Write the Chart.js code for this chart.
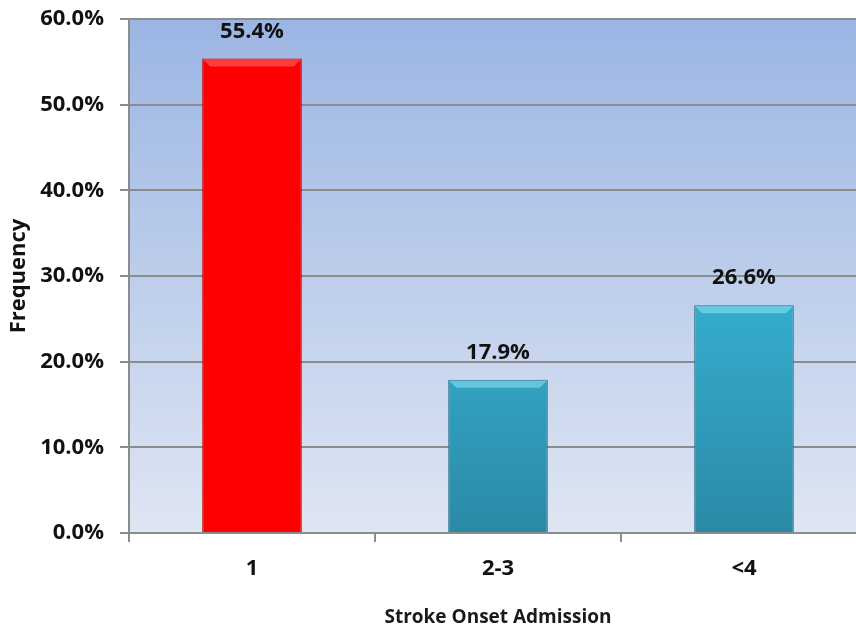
<!DOCTYPE html>
<html>
<head>
<meta charset="utf-8">
<script src="https://cdn.jsdelivr.net/npm/chart.js@4/dist/chart.umd.min.js"></script>
<style>
    html, body { margin: 0; padding: 0; background: #fff; overflow: hidden; }
    #wrap { width: 867px; height: 632px; }
</style>
</head>
<body>
<div id="wrap"><canvas id="onset-chart"></canvas></div>
<script>
// Datos del gráfico
const categories = ['1', '2-3', '<4'];
const frequency = [55.4, 17.9, 26.6];
const yTicks = [0, 10, 20, 30, 40, 50, 60];

const FONT = '"Open Sans", Lato, sans-serif';

// Fondo degradado del área de trazado
const plotBackground = {
    id: 'plotBackground',
    beforeDraw(chart) {
        const { ctx, chartArea: a } = chart;
        const g = ctx.createLinearGradient(0, a.top, 0, a.bottom);
        g.addColorStop(0, '#9bb5e3');
        g.addColorStop(1, '#dfe6f3');
        ctx.save();
        ctx.fillStyle = g;
        ctx.fillRect(a.left, a.top, a.right - a.left, a.bottom - a.top);
        ctx.restore();
    }
};

// Bisel simple en las barras y etiquetas de valor
const barExtras = {
    id: 'barExtras',
    afterDatasetsDraw(chart) {
        const ctx = chart.ctx;
        const meta = chart.getDatasetMeta(0);
        meta.data.forEach((bar, i) => {
            const left = bar.x - bar.width / 2;
            const right = bar.x + bar.width / 2;
            const top = bar.y;
            const b = 8;
            ctx.save();
            ctx.fillStyle = i === 0 ? 'rgba(255,120,120,0.5)' : 'rgba(150,235,250,0.5)';
            ctx.beginPath();
            ctx.moveTo(left + 1, top + 1);
            ctx.lineTo(right - 1, top + 1);
            ctx.lineTo(right - b, top + b);
            ctx.lineTo(left + b, top + b);
            ctx.closePath();
            ctx.fill();
            ctx.restore();

            ctx.save();
            ctx.font = 'bold 22px ' + FONT;
            ctx.fillStyle = '#111';
            ctx.textAlign = 'center';
            ctx.textBaseline = 'middle';
            ctx.fillText(frequency[i].toFixed(1) + '%', bar.x, bar.y - 27);
            ctx.restore();
        });
    }
};

const ctx = document.getElementById('onset-chart').getContext('2d');

new Chart(ctx, {
    type: 'bar',
    data: {
        labels: categories,
        datasets: [{
            data: frequency,
            backgroundColor: function (c) {
                const area = c.chart.chartArea;
                if (!area) return '#35a9c9';
                if (c.dataIndex === 0) return '#ff0000';
                const g = c.chart.ctx.createLinearGradient(0, area.top, 0, area.bottom);
                g.addColorStop(0, '#43c6e6');
                g.addColorStop(0.5, '#37b0d2');
                g.addColorStop(1, '#2a8aa6');
                return g;
            },
            borderColor: function (c) {
                return c.dataIndex === 0 ? '#cc0000' : '#2a6e84';
            },
            borderWidth: 1,
            categoryPercentage: 1,
            barPercentage: 0.405
        }]
    },
    options: {
        responsive: true,
        maintainAspectRatio: false,
        animation: false,
        layout: { padding: { top: 19, right: 0, left: 0, bottom: 0 } },
        plugins: {
            legend: { display: false },
            tooltip: { enabled: false }
        },
        scales: {
            x: {
                grid: {
                    drawOnChartArea: false,
                    drawTicks: true,
                    tickLength: 9,
                    color: '#8c8c8c',
                    lineWidth: 2
                },
                border: { color: '#8c8c8c', width: 2 },
                ticks: {
                    color: '#111',
                    padding: 14,
                    font: { family: FONT, size: 22, weight: 'bold' }
                },
                title: {
                    display: true,
                    text: 'Stroke Onset Admission',
                    color: '#1a1a1a',
                    padding: { top: 0, bottom: 3 },
                    font: { family: FONT, size: 19, weight: 'bold' }
                },
                afterFit: function (s) {
                    s.height = 99;
                    s.paddingLeft = 0;
                    s.paddingRight = 0;
                }
            },
            y: {
                min: 0,
                max: 60,
                afterBuildTicks: function (s) {
                    s.ticks = yTicks.map(v => ({ value: v }));
                },
                grid: {
                    color: '#8c8c8c',
                    lineWidth: 2,
                    tickLength: 9
                },
                border: { color: '#8c8c8c', width: 2 },
                ticks: {
                    color: '#111',
                    padding: 16,
                    font: { family: FONT, size: 22, weight: 'bold' },
                    callback: function (value) {
                        return value.toFixed(1) + '%';
                    }
                },
                title: {
                    display: true,
                    text: 'Frequency',
                    color: '#111',
                    padding: { top: 6, bottom: 0 },
                    font: { family: FONT, size: 22, weight: 'bold' }
                },
                afterFit: function (s) {
                    s.width = 129;
                    s.paddingTop = 0;
                    s.paddingBottom = 0;
                }
            }
        }
    },
    plugins: [plotBackground, barExtras]
});
</script>
</body>
</html>
